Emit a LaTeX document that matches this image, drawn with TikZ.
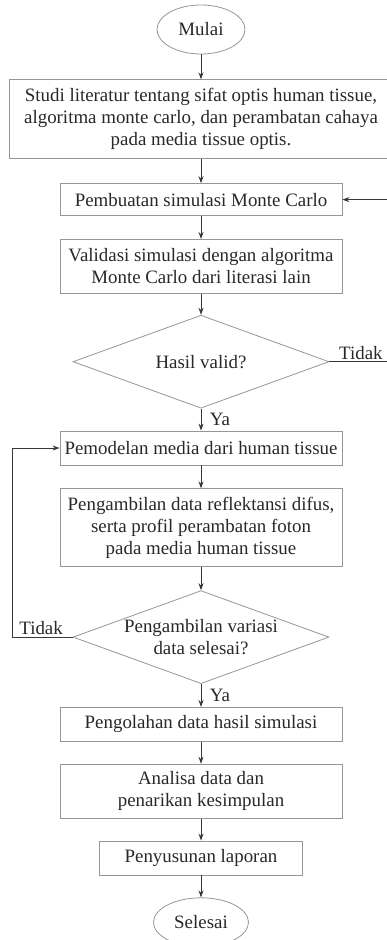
\documentclass[tikz,border=0pt]{standalone}
\usepackage{fontspec}
\setmainfont{Liberation Serif}
\usepackage{tikz}
\usetikzlibrary{positioning,shapes.geometric,arrows.meta}
\definecolor{boxgray}{RGB}{150,150,150}
\definecolor{linegray}{RGB}{55,55,55}
\definecolor{textgray}{RGB}{40,40,40}

\begin{document}
\begin{tikzpicture}[
		x=1pt, y=1pt,
		node distance=23pt,
		every node/.style={font=\fontsize{18.9}{22}\selectfont, text=textgray},
		proses/.style={rectangle, draw=boxgray, line width=0.8pt, align=center, inner sep=0pt, minimum width=282pt},
		terminal/.style={ellipse, draw=boxgray, line width=0.8pt, inner sep=0pt, minimum height=49pt},
		keputusan/.style={diamond, draw=boxgray, line width=0.8pt, align=center, aspect=2.75, inner xsep=-6pt, inner ysep=0pt, minimum width=256pt, minimum height=93pt},
		alur/.style={draw=linegray, line width=1pt, -{Stealth[length=7pt,width=5pt]}},
	]
	\useasboundingbox (0,0) rectangle (386,-940);
	\node[terminal, minimum width=88pt] (mulai) at (201,-29.5) {Mulai};
	\node[proses, below=25pt of mulai, minimum width=383pt, minimum height=79pt] (studi) {Studi literatur tentang sifat optis human tissue,\\algoritma monte carlo, dan perambatan cahaya\\pada media tissue optis.};
	\node[proses, below=24pt of studi, minimum height=32pt] (buat) {Pembuatan simulasi Monte Carlo};
	\node[proses, below=of buat, minimum height=54pt] (validasi) {Validasi simulasi dengan algoritma\\Monte Carlo dari literasi lain};
	\node[keputusan, below=21pt of validasi] (valid) {Hasil valid?};
	\node[proses, below=22pt of valid, minimum height=34pt] (model) {Pemodelan media dari human tissue};
	\node[proses, below=of model, minimum height=78pt] (ambil) {Pengambilan data reflektansi difus,\\serta profil perambatan foton\\pada media human tissue};
	\node[keputusan, below=of ambil] (variasi) {Pengambilan variasi\\data selesai?};
	\node[proses, below=of variasi, minimum height=34pt] (olah) {Pengolahan data hasil simulasi};
	\node[proses, below=22pt of olah, minimum height=54pt] (analisa) {Analisa data dan\\penarikan kesimpulan};
	\node[proses, below=22pt of analisa, minimum width=203pt, minimum height=34pt] (laporan) {Penyusunan laporan};
	\node[terminal, below=22pt of laporan, minimum width=95pt] (selesai) {Selesai};
	\coordinate (kanan) at (390,0);
	\coordinate (kiri) at (12,0);

	\draw[alur] (mulai) -- (studi);
	\draw[alur] (studi) -- (buat);
	\draw[alur] (buat) -- (validasi);
	\draw[alur] (validasi) -- (valid);
	\draw[alur] (valid) -- node[right, xshift=5pt] {Ya} (model);
	\draw[alur] (valid.east) -- node[above, pos=0.52, inner sep=1.5pt] {Tidak} (valid.east -| kanan) |- (buat.east);
	\draw[alur] (model) -- (ambil);
	\draw[alur] (ambil) -- (variasi);
	\draw[alur] (variasi) -- node[right, xshift=5pt] {Ya} (olah);
	\draw[alur] (variasi.west) -- node[above, pos=0.52, inner sep=1.5pt] {Tidak} (variasi.west -| kiri) |- (model.west);
	\draw[alur] (olah) -- (analisa);
	\draw[alur] (analisa) -- (laporan);
	\draw[alur] (laporan) -- (selesai);
\end{tikzpicture}
\end{document}
